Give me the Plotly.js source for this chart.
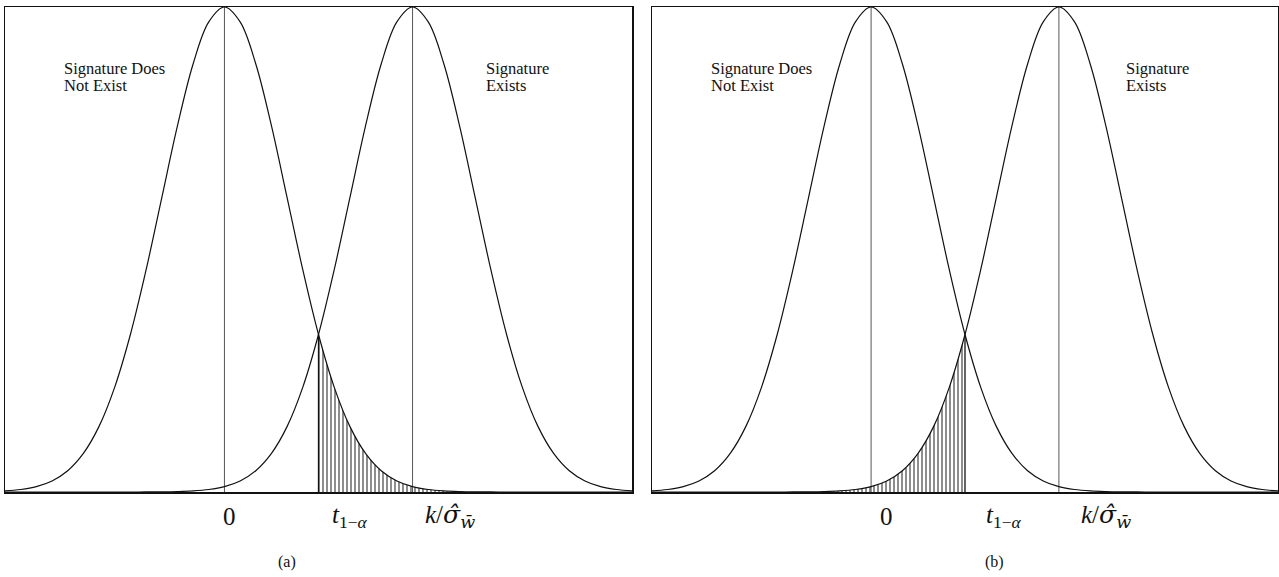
<!DOCTYPE html>
<html>
<head>
<meta charset="utf-8">
<script src="https://cdn.plot.ly/plotly-3.0.1.min.js"></script>
<style>
  html, body { margin: 0; padding: 0; background: #fff; }
  #chart { width: 1279px; height: 577px; }
</style>
</head>
<body>
<div id="chart"></div>
<script>
// ---------- data ----------
const xGrid = [-3.5,-3.25,-3,-2.75,-2.5,-2.25,-2,-1.75,-1.5,-1.25,-1,-0.75,-0.5,-0.25,0,
  0.25,0.5,0.75,1,1.25,1.5,1.75,2,2.25,2.5,2.75,3,3.25,3.5,3.75,4,4.25,4.5,4.75,5,5.25,5.5,5.75,6,6.25,6.5];

// "Signature Does Not Exist" density (peak at 0), relative height
const nullCurve = [0.0022,0.0051,0.0111,0.0228,0.0439,0.0796,0.1353,0.2163,0.3247,0.4578,0.6065,0.7548,0.8825,0.9692,1,
  0.9692,0.8825,0.7548,0.6065,0.4578,0.3247,0.2163,0.1353,0.0796,0.0439,0.0228,0.0111,0.0051,0.0022,0.0009,0.0003,0.0001,0,0,0,0,0,0,0,0,0];

// "Signature Exists" density (peak at k/sigma), relative height
const signalCurve = [0,0,0,0,0,0,0,0,0,0.0001,0.0003,0.0009,0.0022,0.0051,0.0111,
  0.0228,0.0439,0.0796,0.1353,0.2163,0.3247,0.4578,0.6065,0.7548,0.8825,0.9692,1,0.9692,0.8825,0.7548,0.6065,0.4578,0.3247,0.2163,0.1353,0.0796,0.0439,0.0228,0.0111,0.0051,0.0022];

const means = [0, 3];          // 0 and k/sigma
const tCrit = 1.5;             // t_{1-alpha}
const axisLabels = [
  '0',
  '<i>t</i><sub>1\u2212<i>\u03b1</i></sub>',
  '<i>k</i>/<span style="font-family:DejaVu Serif"><i>\u03c3\u0302</i></span><sub><span style="font-family:DejaVu Serif"><i>w\u0304</i></span></sub>'
];
const panelCaptions = ['(a)', '(b)'];
const leftText = ['Signature Does', 'Not Exist'];
const rightText = ['Signature', 'Exists'];

// ---------- layout config ----------
const W = 1279, H = 577;
const panels = [
  { xa: 'x',  ya: 'y',  left: 5,   right: 632,  labelX: [0.08, 2.0, 3.6],  shade: 'null',
    capX: 287, leftTextX: 63, rightTextX: 485 },
  { xa: 'x2', ya: 'y2', left: 652, right: 1278, labelX: [0.25, 2.13, 3.76], shade: 'signal',
    capX: 995, leftTextX: 710, rightTextX: 1125 }
];
const plotTopPx = 7, plotBottomPx = 492;
const serif = 'Liberation Serif, Times New Roman, serif';
const ink = '#111';

const traces = [];
const annotations = [];

panels.forEach((p, pi) => {
  // hatched region
  let hx = [], hy = [];
  let edgeY;
  if (p.shade === 'null') {
    xGrid.forEach((x, i) => { if (x >= tCrit) { hx.push(x); hy.push(nullCurve[i]); } });
    edgeY = nullCurve[xGrid.indexOf(tCrit)];
  } else {
    xGrid.forEach((x, i) => { if (x <= tCrit) { hx.push(x); hy.push(signalCurve[i]); } });
    edgeY = signalCurve[xGrid.indexOf(tCrit)];
  }
  traces.push({
    x: hx, y: hy, xaxis: p.xa, yaxis: p.ya, type: 'scatter', mode: 'lines',
    line: { width: 0, shape: 'spline', smoothing: 1 }, fill: 'tozeroy',
    fillcolor: 'rgba(0,0,0,0)',
    fillpattern: { shape: '|', size: 4, solidity: 0.28, fgcolor: '#333', bgcolor: 'rgba(255,255,255,0)' },
    hoverinfo: 'skip', showlegend: false
  });
  // edge of hatched region at t
  traces.push({
    x: [tCrit, tCrit], y: [0, edgeY], xaxis: p.xa, yaxis: p.ya, type: 'scatter', mode: 'lines',
    line: { color: ink, width: 1.3 }, hoverinfo: 'skip', showlegend: false
  });
  // mean lines
  means.forEach((m, mi) => {
    const peak = mi === 0 ? nullCurve[xGrid.indexOf(m)] : signalCurve[xGrid.indexOf(m)];
    traces.push({
      x: [m, m], y: [0, peak], xaxis: p.xa, yaxis: p.ya, type: 'scatter', mode: 'lines',
      line: { color: '#444', width: 0.9 }, hoverinfo: 'skip', showlegend: false
    });
  });
  // curves
  [nullCurve, signalCurve].forEach(curve => {
    traces.push({
      x: xGrid, y: curve, xaxis: p.xa, yaxis: p.ya, type: 'scatter', mode: 'lines',
      line: { color: ink, width: 1.2, shape: 'spline', smoothing: 1 },
      hoverinfo: 'skip', showlegend: false
    });
  });

  // bottom labels
  axisLabels.forEach((lab, li) => {
    annotations.push({
      text: lab, xref: p.xa, x: p.labelX[li], yref: 'paper', y: (H - 516) / H,
      xanchor: 'center', yanchor: 'middle', showarrow: false, borderpad: 0,
      font: { family: serif, size: 25, color: ink }
    });
  });
  // caption
  annotations.push({
    text: panelCaptions[pi], xref: 'paper', x: p.capX / W, yref: 'paper', y: (H - 562) / H,
    xanchor: 'center', yanchor: 'middle', showarrow: false, borderpad: 0,
    font: { family: serif, size: 16, color: ink }
  });
  // in-plot texts
  [leftText, rightText].forEach((lines, ti) => {
    lines.forEach((ln, k) => {
      annotations.push({
        text: ln, xref: 'paper', x: (ti === 0 ? p.leftTextX : p.rightTextX) / W,
        yref: 'paper', y: (H - (68 + 17.5 * k)) / H,
        xanchor: 'left', yanchor: 'middle', showarrow: false, borderpad: 0,
        font: { family: serif, size: 16.5, color: ink }
      });
    });
  });
});

const axisCommon = {
  showgrid: false, zeroline: false, showticklabels: false, ticks: '',
  showline: true, mirror: true, linecolor: ink, linewidth: 1.5
};

const layout = {
  width: W, height: H,
  margin: { l: 0, r: 0, t: 0, b: 0 },
  paper_bgcolor: '#fff', plot_bgcolor: '#fff',
  showlegend: false,
  xaxis: Object.assign({}, axisCommon, { domain: [panels[0].left / W, panels[0].right / W], range: [-3.5, 6.5], anchor: 'y' }),
  yaxis: Object.assign({}, axisCommon, { domain: [(H - plotBottomPx) / H, (H - plotTopPx) / H], range: [0, 1], anchor: 'x' }),
  xaxis2: Object.assign({}, axisCommon, { domain: [panels[1].left / W, panels[1].right / W], range: [-3.5, 6.5], anchor: 'y2' }),
  yaxis2: Object.assign({}, axisCommon, { domain: [(H - plotBottomPx) / H, (H - plotTopPx) / H], range: [0, 1], anchor: 'x2' }),
  annotations: annotations
};

Plotly.newPlot('chart', traces, layout, { staticPlot: true, displayModeBar: false });
</script>
</body>
</html>
